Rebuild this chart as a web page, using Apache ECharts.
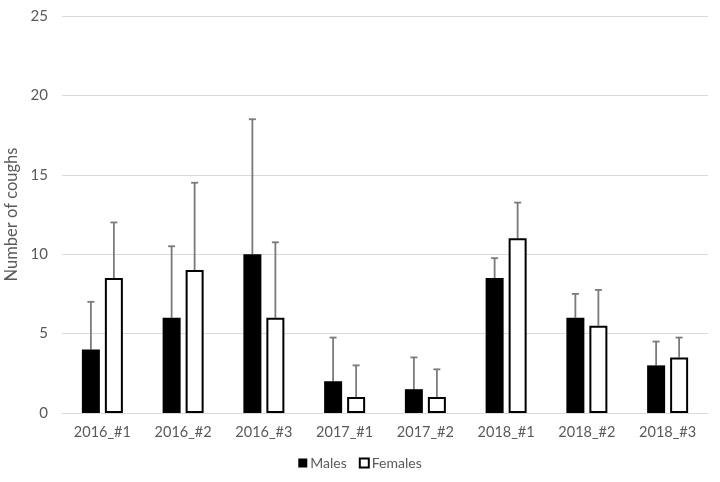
<!DOCTYPE html>
<html><head><meta charset="utf-8">
<script src="https://cdn.jsdelivr.net/npm/echarts@6/dist/echarts.min.js"></script>
<style>html,body{margin:0;padding:0;background:#fff}#c{width:720px;height:482px}</style>
</head><body><div id="c"></div>
<script>
const categories = ['2016_#1','2016_#2','2016_#3','2017_#1','2017_#2','2018_#1','2018_#2','2018_#3'];
const males = [4, 6, 10, 2, 1.5, 8.5, 6, 3];
const malesErrTop = [7, 10.5, 18.5, 4.75, 3.5, 9.75, 7.5, 4.5];
const females = [8.5, 9, 6, 1, 1, 11, 5.5, 3.5];
const femalesErrTop = [12, 14.5, 10.75, 3, 2.75, 13.25, 7.75, 4.75];
const yTicks = [0, 5, 10, 15, 20, 25];

const BAR_W = 18, GAP = 5;
const off = (BAR_W + GAP) / 2;
const font = 'Lato, "Open Sans", sans-serif';
const textColor = '#595959';

function errSeries(name, vals, tops, sign) {
  return {
    type: 'custom', name: name + ' err', silent: true, z: 1,
    data: vals.map((v, i) => [i, v, tops[i]]),
    renderItem: function (params, api) {
      const base = api.coord([api.value(0), api.value(1)]);
      const top = api.coord([api.value(0), api.value(2)]);
      const x = base[0] + sign * off;
      const style = { stroke: '#7a7a7a', lineWidth: 1.8 };
      return {
        type: 'group', children: [
          { type: 'line', shape: { x1: x, y1: base[1], x2: x, y2: top[1] }, style: style },
          { type: 'line', shape: { x1: x - 3.5, y1: top[1], x2: x + 3.5, y2: top[1] }, style: style }
        ]
      };
    }
  };
}

const chart = echarts.init(document.getElementById('c'));
chart.setOption({
  animation: false,
  textStyle: { fontFamily: font },
  grid: { left: 62, right: 12, top: 16, bottom: 69, containLabel: false, outerBoundsMode: 'none' },
  legend: {
    bottom: 7, left: 'center', itemWidth: 9, itemHeight: 9, itemGap: 12,
    icon: 'rect',
    textStyle: { color: textColor, fontSize: 14, fontFamily: font, padding: [0, 0, 0, -2] },
    data: [
      { name: 'Males', itemStyle: { color: '#000', borderWidth: 0 } },
      { name: 'Females', itemStyle: { color: '#fff', borderColor: '#000', borderWidth: 2 } }
    ]
  },
  xAxis: {
    type: 'category', data: categories,
    axisLine: { lineStyle: { color: '#d9d9d9', width: 1 } },
    axisTick: { show: false },
    axisLabel: { color: textColor, fontSize: 14.5, margin: 12, fontFamily: font }
  },
  yAxis: {
    type: 'value', min: yTicks[0], max: yTicks[yTicks.length - 1], interval: 5,
    name: 'Number of coughs', nameLocation: 'middle', nameGap: 39,
    nameTextStyle: { color: textColor, fontSize: 16.5, fontFamily: font },
    axisLine: { show: false }, axisTick: { show: false },
    axisLabel: { color: textColor, fontSize: 15, margin: 14, fontFamily: font },
    splitLine: { lineStyle: { color: '#d9d9d9', width: 1 } }
  },
  series: [
    errSeries('Males', males, malesErrTop, -1),
    errSeries('Females', females, femalesErrTop, 1),
    {
      name: 'Males', type: 'bar', data: males, barWidth: BAR_W, barGap: (GAP / BAR_W * 100) + '%', z: 2,
      itemStyle: { color: '#000' }
    },
    {
      name: 'Females', type: 'bar', data: females, barWidth: BAR_W, z: 2,
      itemStyle: { color: '#fff', borderColor: '#000', borderWidth: 2 }
    }
  ]
});
</script>
</body></html>
